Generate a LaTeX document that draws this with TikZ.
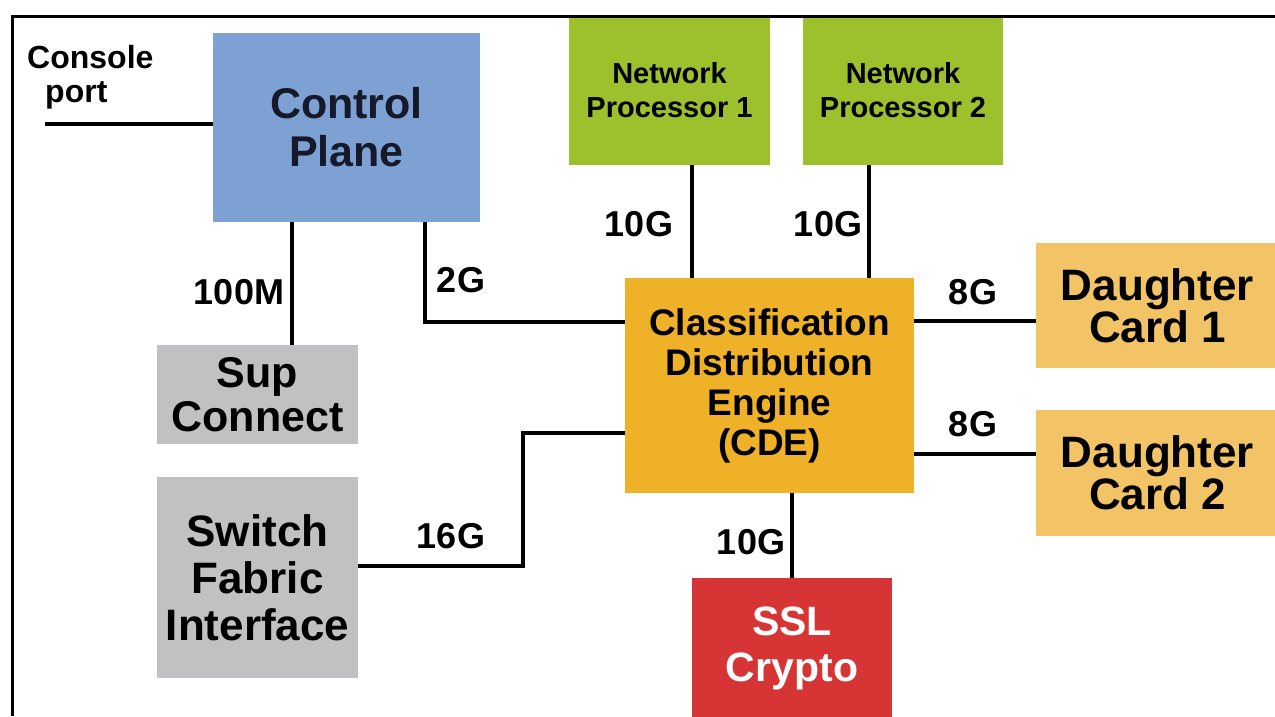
\documentclass[tikz,border=0pt]{standalone}
\usepackage{fontspec}
\setmainfont{Liberation Sans}
\usetikzlibrary{calc}

\definecolor{cpblue}{HTML}{7EA1D3}
\definecolor{npgreen}{HTML}{9DC12D}
\definecolor{cdeorange}{HTML}{EFB128}
\definecolor{cardorange}{HTML}{F3C466}
\definecolor{boxgray}{HTML}{C1C1C4}
\definecolor{sslred}{HTML}{D73535}
\definecolor{cptext}{HTML}{15192A}

\newcommand\blkfont[2]{\fontsize{#1}{#2}\selectfont\bfseries}

\begin{document}
\begin{tikzpicture}[x=1pt, y=-1pt,
  blk/.style={rectangle, inner sep=0pt, align=center, text=black},
  lbl/.style={inner sep=0pt, font=\blkfont{36}{40}},
  wire/.style={line width=3.5pt, black},
  frameline/.style={line width=3pt, black}]

\useasboundingbox (0,0) rectangle (1275,716);
\fill[white] (0,0) rectangle (1275,716);

% blocks
\node[blk, fill=cpblue, minimum width=267pt, minimum height=189pt,
      font=\blkfont{43}{48}, text=cptext] (cp) at (346.5,127.5) {Control\\Plane};
\node[blk, fill=npgreen, minimum width=201pt, minimum height=149pt,
      font=\blkfont{29}{34}] (np1) at (669.5,90.5) {Network\\Processor 1};
\node[blk, fill=npgreen, minimum width=200pt, minimum height=149pt,
      font=\blkfont{29}{34}] (np2) at (903,90.5) {Network\\Processor 2};
\node[blk, fill=cdeorange, minimum width=289pt, minimum height=215pt,
      font=\blkfont{37}{40}] (cde) at (769.5,385.5) {Classification\\Distribution\\Engine\\(CDE)};
\node[blk, fill=cardorange, minimum width=243pt, minimum height=125pt,
      font=\blkfont{44}{42}] (dc1) at (1157.5,305.5) {Daughter\\Card 1};
\node[blk, fill=cardorange, minimum width=243pt, minimum height=126pt,
      font=\blkfont{44}{42}] (dc2) at (1157.5,473) {Daughter\\Card 2};
\node[blk, fill=boxgray, minimum width=201pt, minimum height=99pt,
      font=\blkfont{43}{44}] (sup) at (257.5,394.5) {Sup\\Connect};
\node[blk, fill=boxgray, minimum width=201pt, minimum height=201pt,
      font=\blkfont{44}{47}] (sfi) at (257.5,577.5) {Switch\\Fabric\\Interface};
\node[blk, fill=sslred, minimum width=200pt, minimum height=140pt,
      font=\blkfont{41}{46}, text=white] (ssl) at (792,648) {SSL\\Crypto};

% console label
\node[inner sep=0pt, anchor=west, align=left, font=\blkfont{32}{34}] (console)
      at (27,77) {Console\\\hspace*{18pt}port};

% reference points for the wiring
\coordinate (conend) at (45,124);
\coordinate (xsup) at (292,0);
\coordinate (x2g) at (425,0);
\coordinate (y2g) at (0,322);
\coordinate (xnp1) at (692,0);
\coordinate (xnp2) at (869,0);
\coordinate (ydc1) at (0,321);
\coordinate (ydc2) at (0,454);
\coordinate (sfa) at (523,566);
\coordinate (sfb) at (523,433);

% connectors
\draw[wire] (conend) -- (conend -| cp.west);
\draw[wire] (cp.south -| xsup) -- (sup.north -| xsup);
\draw[wire] (cp.south -| x2g) |- (cde.west |- y2g);
\draw[wire] (np1.south -| xnp1) -- (cde.north -| xnp1);
\draw[wire] (np2.south -| xnp2) -- (cde.north -| xnp2);
\draw[wire] (cde.east |- ydc1) -- (dc1.west |- ydc1);
\draw[wire] (cde.east |- ydc2) -- (dc2.west |- ydc2);
\draw[wire] (sfi.east |- sfa) -- (sfa) -- (sfb) -- (cde.west |- sfb);
\draw[wire] (ssl.north |- cde.south) -- (ssl.north);

% link speeds
\node[lbl, anchor=base] (l100m) at (239,304) {100M};
\node[lbl, anchor=base] (l2g) at (461,292) {2G};
\node[lbl, anchor=base] (lnp1) at (639,236) {10G};
\node[lbl, anchor=base] (lnp2) at (828,236) {10G};
\node[lbl, anchor=base] (ldc1) at (973,304) {8G};
\node[lbl, anchor=base] (ldc2) at (973,436) {8G};
\node[lbl, anchor=base] (l16g) at (451,548) {16G};
\node[lbl, anchor=base] (lssl) at (751,554) {10G};

% frame
\draw[frameline] (12,716) -- (12,16) -- (1275,16);
\end{tikzpicture}
\end{document}
